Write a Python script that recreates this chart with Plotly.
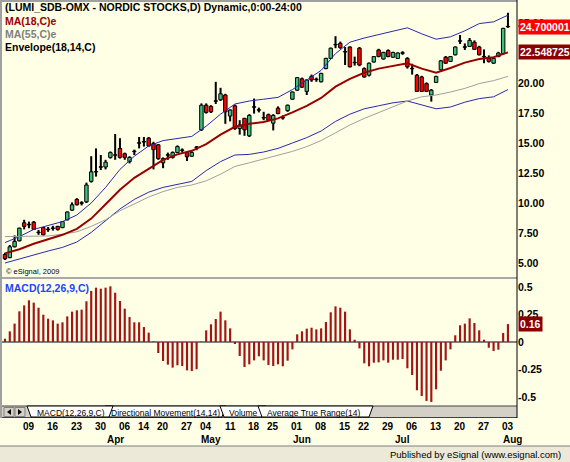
import plotly.graph_objects as go

W, H = 570, 462
BG = "#FFFFE6"
GREEN = "#3FBF7F"
RED = "#FF0000"
MA18_COL = "#990000"
MA55_COL = "#A0A0A0"
ENV_COL = "#2828B0"
MACD_COL = "#A31515"
FONT = "Liberation Sans, Arial, sans-serif"

# ---------------- data ----------------
opens = [5.72, 5.45, 6.35, 6.85, 8.35, 8.2, 8.4, 7.55, 7.95, 7.8,
         7.9, 8.05, 7.95, 8.6, 9.4, 10.3, 10.0, 10.1, 11.8, 12.6,
         13.0, 13.0, 13.8, 14.0, 14.55, 14.1, 13.45, 14.3, 15.0, 15.1,
         15.4, 14.95, 14.85, 13.35, 14.0, 13.8, 14.2, 14.4, 14.2, 13.9,
         14.65, 16.1, 18.15, 18.05, 18.5, 18.6, 19.0, 17.25, 18.1, 16.2,
         17.05, 15.6, 18.0, 17.75, 17.1, 17.35, 16.65, 17.9, 17.1, 17.7,
         18.65, 19.4, 20.35, 19.3, 20.55, 20.3, 20.1, 21.2, 22.05, 23.2,
         23.3, 22.6, 23.0, 21.7, 22.9, 21.2, 20.65, 21.75, 22.75, 22.0,
         22.7, 22.15, 22.05, 22.5, 22.05, 21.2, 20.65, 20.5, 19.95, 19.0,
         20.05, 21.1, 22.15, 21.8, 22.35, 23.5, 23.0, 23.05, 23.4, 23.0,
         22.2, 22.05, 21.65, 22.2, 22.45, 24.700001]
highs = [5.85, 6.5, 7.3, 7.95, 8.6, 8.45, 8.5, 7.75, 8.0, 8.0,
         8.1, 8.1, 8.5, 9.3, 10.05, 10.4, 10.15, 11.7, 13.9, 14.55,
         14.0, 13.6, 14.3, 15.75, 15.4, 14.2, 13.9, 14.45, 15.5, 15.5,
         15.5, 15.1, 14.9, 13.8, 14.2, 14.3, 14.8, 14.55, 14.3, 14.3,
         14.75, 18.3, 18.3, 18.15, 20.1, 19.6, 19.1, 17.8, 18.2, 16.9,
         17.1, 17.4, 18.7, 17.95, 17.6, 17.45, 17.4, 18.05, 17.3, 18.2,
         19.3, 20.5, 20.45, 20.3, 20.7, 20.45, 20.85, 22.1, 22.95, 23.9,
         23.45, 23.0, 23.05, 22.2, 23.0, 21.3, 21.7, 22.25, 22.85, 22.6,
         22.8, 22.6, 22.55, 22.65, 22.15, 21.6, 20.75, 20.6, 20.05, 19.5,
         20.6, 21.9, 22.25, 22.25, 23.05, 24.0, 23.3, 23.75, 23.55, 23.1,
         22.8, 22.3, 22.1, 22.6, 24.6, 25.85]
lows = [5.25, 5.4, 6.3, 6.8, 7.8, 7.9, 7.75, 7.35, 7.3, 7.6,
        7.7, 7.7, 7.9, 8.55, 9.35, 9.8, 9.8, 10.0, 11.7, 12.2,
        12.75, 12.8, 13.7, 13.6, 13.7, 13.6, 13.3, 14.0, 14.55, 14.7,
        14.7, 12.8, 13.6, 12.9, 13.6, 13.7, 14.15, 14.2, 13.5, 13.85,
        14.4, 16.0, 17.45, 17.5, 18.25, 18.5, 16.6, 16.8, 16.1, 15.7,
        15.6, 15.5, 17.45, 17.55, 16.9, 16.85, 16.05, 17.4, 16.95, 17.6,
        18.6, 19.35, 19.6, 19.0, 20.1, 20.1, 20.05, 21.15, 22.0, 22.9,
        22.85, 21.5, 21.3, 21.45, 21.4, 20.45, 20.55, 21.7, 22.15, 21.95,
        22.15, 22.1, 22.0, 22.35, 21.2, 20.7, 19.25, 19.25, 19.25, 18.45,
        20.0, 21.05, 21.6, 21.75, 22.3, 23.25, 22.75, 23.0, 22.75, 22.3,
        21.65, 21.7, 21.6, 22.15, 22.4, 24.6]
closes = [5.35, 6.35, 6.8, 7.9, 8.05, 8.2, 7.8, 7.55, 7.35, 7.8,
          7.9, 7.8, 8.45, 9.25, 9.85, 9.85, 10.0, 11.5, 12.6, 12.6,
          13.0, 13.4, 14.2, 14.0, 13.8, 13.8, 13.8, 14.3, 15.0, 15.1,
          14.75, 14.45, 13.7, 13.7, 14.0, 14.2, 14.7, 14.4, 13.85, 14.2,
          14.65, 18.15, 17.55, 17.6, 18.5, 19.1, 17.6, 17.75, 16.2, 16.5,
          16.1, 17.3, 18.0, 17.75, 17.1, 16.9, 17.3, 17.45, 17.1, 18.15,
          19.25, 20.45, 19.65, 20.25, 20.25, 20.3, 20.8, 22.05, 22.9, 23.2,
          22.95, 22.6, 21.35, 21.7, 21.5, 20.5, 21.65, 22.2, 22.2, 22.55,
          22.2, 22.55, 22.5, 22.5, 21.35, 21.2, 19.3, 19.3, 19.3, 19.4,
          20.55, 21.85, 21.65, 22.2, 23.0, 23.5, 23.0, 23.55, 22.8, 22.35,
          22.2, 21.8, 22.05, 22.5, 24.55, 24.700001]

line_idx = list(range(0, 106, 3))
ma18 = [5.8, 6.15, 6.6, 7.0, 7.35, 7.85, 8.7, 9.9, 11.1, 12.1,
        12.85, 13.6, 14.05, 14.35, 14.9, 15.7, 16.35, 16.6, 16.75, 17.05,
        17.55, 18.1, 18.75, 19.7, 20.35, 20.85, 21.2, 21.45, 21.65, 21.2,
        20.85, 21.25, 21.7, 22.0, 22.15, 22.548725]
ma55 = [7.2, 7.2, 7.2, 7.25, 7.4, 7.6, 8.05, 8.6, 9.35, 9.95,
        10.5, 10.95, 11.3, 11.5, 11.85, 12.4, 13.05, 13.35, 13.65, 13.95,
        14.3, 14.7, 15.2, 15.85, 16.5, 17.05, 17.55, 18.05, 18.5, 18.85,
        19.0, 19.25, 19.55, 19.95, 20.2, 20.55]
env_up = [6.7, 7.2, 7.8, 8.1, 8.45, 9.0, 10.0, 11.3, 12.8, 13.9,
          14.75, 15.2, 15.35, 15.55, 16.4, 17.4, 18.25, 18.5, 18.65, 18.8,
          19.45, 20.25, 21.05, 22.45, 23.4, 23.75, 24.05, 24.35, 24.6, 24.1,
          23.65, 23.85, 24.35, 24.95, 25.1, 25.65]
env_lo = [5.0, 5.35, 5.7, 6.0, 6.3, 6.75, 7.55, 8.5, 9.5, 10.3,
          10.9, 11.3, 11.55, 11.8, 12.7, 13.45, 14.0, 14.05, 14.25, 14.55,
          15.0, 15.45, 16.0, 16.8, 17.4, 17.85, 18.1, 18.35, 18.5, 18.2,
          17.85, 18.0, 18.4, 18.7, 18.85, 19.45]

macd_hist = [0.030, 0.097, 0.167, 0.279, 0.333, 0.379, 0.358, 0.312, 0.248, 0.212,
             0.197, 0.167, 0.179, 0.233, 0.276, 0.288, 0.294, 0.370, 0.464, 0.494,
             0.485, 0.494, 0.506, 0.448, 0.373, 0.303, 0.227, 0.179, 0.179, 0.136,
             0.085, 0.006, -0.100, -0.173, -0.206, -0.233, -0.212, -0.218, -0.258, -0.264,
             -0.248, 0.004, 0.106, 0.161, 0.209, 0.276, 0.197, 0.124, -0.018, -0.127,
             -0.227, -0.203, -0.167, -0.130, -0.167, -0.209, -0.218, -0.203, -0.221, -0.170,
             -0.067, 0.070, 0.097, 0.121, 0.130, 0.115, 0.124, 0.182, 0.270, 0.324,
             0.312, 0.276, 0.115, 0.021, -0.058, -0.194, -0.221, -0.188, -0.185, -0.167,
             -0.188, -0.161, -0.161, -0.155, -0.239, -0.300, -0.439, -0.491, -0.536, -0.545,
             -0.430, -0.261, -0.167, -0.067, 0.061, 0.152, 0.167, 0.215, 0.173, 0.106,
             0.021, -0.052, -0.082, -0.070, 0.082, 0.163]

week_idx = [5, 10, 15, 20, 25, 29, 33, 38, 42, 47, 52, 56, 61, 66, 71, 75, 80, 85, 90, 95, 100, 105]
week_lbl = ["09", "16", "23", "30", "06", "14", "20", "27", "04", "11", "18",
            "25", "01", "08", "15", "22", "29", "06", "13", "20", "27", "03"]
month_idx = [22, 42, 61, 82, 105]
month_lbl = ["Apr", "May", "Jun", "Jul", "Aug"]
price_ticks = [5, 7.5, 10, 12.5, 15, 17.5, 20, 25]
macd_ticks = [-0.5, -0.25, 0, 0.25, 0.5]
macd_tick_lbl = ["-0.5", "-0.25", "0", "0.25", "0.5"]
tabs = ["MACD(12,26,9,C)", "Directional Movement(14,14)", "Volume", "Average True Range(14)"]

# ---------------- layout geometry (pixels) ----------------
def px(x):
    return x / W

def py(y):
    return 1 - y / H

X_L, X_R = 2, 517
P1_T, P1_B = 2, 277
P2_T, P2_B = 279, 406
TAB_T, TAB_B = 406, 418
x0_idx = (X_L - 5) / 4.79
x1_idx = (X_R - 5) / 4.79
p1_lo = 5 + (263 - P1_B) / 12
p1_hi = 5 + (263 - P1_T) / 12
p2_lo = (342 - P2_B) / 110
p2_hi = (342 - P2_T) / 110

idx = list(range(len(closes)))
body_base = [min(o, c) if c != o else o - 0.02 for o, c in zip(opens, closes)]
body_h = [max(abs(c - o), 0.04) for o, c in zip(opens, closes)]
body_col = [GREEN if c > o else (RED if c < o else "black") for o, c in zip(opens, closes)]
wick_h = [h - l for h, l in zip(highs, lows)]

fig = go.Figure()

fig.add_trace(go.Bar(x=idx, y=wick_h, base=lows, width=0.42,
                     marker=dict(color="black", line=dict(width=0)),
                     xaxis="x", yaxis="y", showlegend=False, hoverinfo="skip"))
fig.add_trace(go.Bar(x=idx, y=body_h, base=body_base, width=0.72,
                     marker=dict(color=body_col, line=dict(color="black", width=1)),
                     xaxis="x", yaxis="y", showlegend=False, hoverinfo="skip"))

for vals, col, wd in [(env_up, ENV_COL, 1), (env_lo, ENV_COL, 1),
                      (ma55, MA55_COL, 1), (ma18, MA18_COL, 2)]:
    fig.add_trace(go.Scatter(x=line_idx, y=vals, mode="lines",
                             line=dict(color=col, width=wd),
                             xaxis="x", yaxis="y", showlegend=False, hoverinfo="skip"))

fig.add_trace(go.Bar(x=idx, y=macd_hist, width=0.45,
                     marker=dict(color=MACD_COL, line=dict(width=0)),
                     xaxis="x2", yaxis="y2", showlegend=False, hoverinfo="skip"))

tickfont = dict(family=FONT, size=10.5, color="black", weight="bold")
axis_common = dict(showgrid=False, zeroline=False, showline=False, fixedrange=True)

fig.update_layout(
    width=W, height=H,
    margin=dict(l=0, r=0, t=0, b=0),
    paper_bgcolor=BG, plot_bgcolor=BG,
    barmode="overlay",
    showlegend=False,
    xaxis=dict(domain=[px(X_L), px(X_R)], range=[x0_idx, x1_idx], anchor="y",
               showticklabels=False, ticks="", **axis_common),
    yaxis=dict(domain=[py(P1_B), py(P1_T)], range=[p1_lo, p1_hi], anchor="x",
               side="right", tickvals=price_ticks,
               ticktext=[f"{v:.2f}" for v in price_ticks],
               ticks="", tickfont=tickfont, **axis_common),
    xaxis2=dict(domain=[px(X_L), px(X_R)], range=[x0_idx, x1_idx], anchor="y2",
                matches="x", showticklabels=False, ticks="", **axis_common),
    yaxis2=dict(domain=[py(P2_B), py(P2_T)], range=[p2_lo, p2_hi], anchor="x2",
                side="right", tickvals=macd_ticks, ticktext=macd_tick_lbl,
                ticks="", tickfont=tickfont,
                showgrid=False, showline=False, fixedrange=True,
                zeroline=True, zerolinecolor="#808080", zerolinewidth=2),
)

anns = []

def txt(x, y, s, color="black", size=10.5, bold=True, xanchor="left", xref="paper", **kw):
    anns.append(dict(x=x, y=y, xref=xref, yref="paper", text=s, showarrow=False,
                     xanchor=xanchor, yanchor="middle",
                     font=dict(family=FONT, size=size, color=color,
                               weight="bold" if bold else "normal"), **kw))

txt(px(3), py(7), "(LUMI_SDB-OMX - NORDIC STOCKS,D) Dynamic,0:00-24:00")
txt(px(3), py(20.5), "MA(18,C)e", color=MA18_COL)
txt(px(3), py(33.5), "MA(55,C)e", color="#808080")
txt(px(3), py(46.5), "Envelope(18,14,C)")
txt(px(4), py(271), "© eSignal, 2009", size=7.5, bold=False)
txt(px(3), py(288), "MACD(12,26,9,C)", color="#2244FF")

# value boxes on the right axis
def vbox(val, yref, s, bg):
    anns.append(dict(x=px(518), y=val, xref="paper", yref=yref, text=s, showarrow=False,
                     xanchor="left", yanchor="middle", bgcolor=bg, borderpad=1,
                     font=dict(family=FONT, size=10.5, color="white", weight="bold")))

vbox(closes[-1], "y", f"{closes[-1]:.6f}", "#FF0000")
vbox(ma18[-1], "y", f"{ma18[-1]:.6f}", "#8B0000")
vbox(macd_hist[-1], "y2", f"{macd_hist[-1]:.2f}", "#8B0000")

# date labels
for i, s in zip(week_idx, week_lbl):
    txt(i, py(426), s, xanchor="center", xref="x2", size=10)
for i, s in zip(month_idx, month_lbl):
    txt(i, py(439), s, xanchor="center", xref="x2", size=10, xshift=5)

# tab labels
tab_geo = [(27, 113, 70.5), (105, 226, 165), (220, 266, 243), (258, 373, 314)]
for (a, b, c), s in zip(tab_geo, tabs):
    txt(px(c), py(412.5), s, xanchor="center", size=8.5, bold=False)

txt(px(563), py(454), "Published by eSignal (www.esignal.com)", xanchor="right", size=9.5, bold=False)

shapes = []

def rect(x0, y0, x1, y1, fill, line=None, lw=0):
    shapes.append(dict(type="rect", xref="paper", yref="paper",
                       x0=px(x0), x1=px(x1), y0=py(y1), y1=py(y0),
                       fillcolor=fill, line=dict(color=line or fill, width=lw), layer="above"))

def seg(x0, y0, x1, y1, color, w):
    shapes.append(dict(type="line", xref="paper", yref="paper",
                       x0=px(x0), x1=px(x1), y0=py(y0), y1=py(y1),
                       line=dict(color=color, width=w), layer="above"))

def poly(pts, fill, line="black", lw=1):
    path = "M " + " L ".join(f"{px(x)},{py(y)}" for x, y in pts) + " Z"
    shapes.append(dict(type="path", xref="paper", yref="paper", path=path,
                       fillcolor=fill, line=dict(color=line, width=lw), layer="above"))

# frame
seg(1, 0, 1, TAB_B, "#A0A0A0", 2)
seg(0, 1, X_R, 1, "#A0A0A0", 2)
seg(X_L, 278, X_R, 278, "#A8A8A8", 2)

# tab strip
rect(X_L, TAB_T, X_R, TAB_B, "#D4D0C8")
seg(X_L, TAB_T, X_R, TAB_T, "#404040", 1)
seg(X_L, TAB_B - 0.5, X_R, TAB_B - 0.5, "#404040", 1)
# buttons
rect(4, TAB_T + 1.5, 14, TAB_B - 1.5, "#D4D0C8", "#808080", 1)
rect(15, TAB_T + 1.5, 25, TAB_B - 1.5, "#D4D0C8", "#808080", 1)
mid = (TAB_T + TAB_B) / 2
poly([(7, mid), (11, mid - 3), (11, mid + 3)], "black", "black", 0)
poly([(18, mid - 3), (22, mid), (18, mid + 3)], "black", "black", 0)
# tabs: inactive left to right, active last
for (a, b, c) in tab_geo[1:]:
    poly([(a, TAB_T), (a + 4, TAB_B - 1), (b - 4, TAB_B - 1), (b, TAB_T)], "white")
a, b, c = tab_geo[0]
poly([(a, TAB_T), (a + 4, TAB_B - 1), (b - 4, TAB_B - 1), (b, TAB_T)], "white")

# right axis line
seg(X_R, 0, X_R, TAB_B, "black", 1)

# status bar
rect(0, 446, W, H + 1, "#ECE9D8")
seg(0, 446, W, 446, "#7F7F7F", 1)

fig.update_layout(annotations=anns, shapes=shapes)

fig.write_html("out.html", config={"displayModeBar": False, "staticPlot": True})
